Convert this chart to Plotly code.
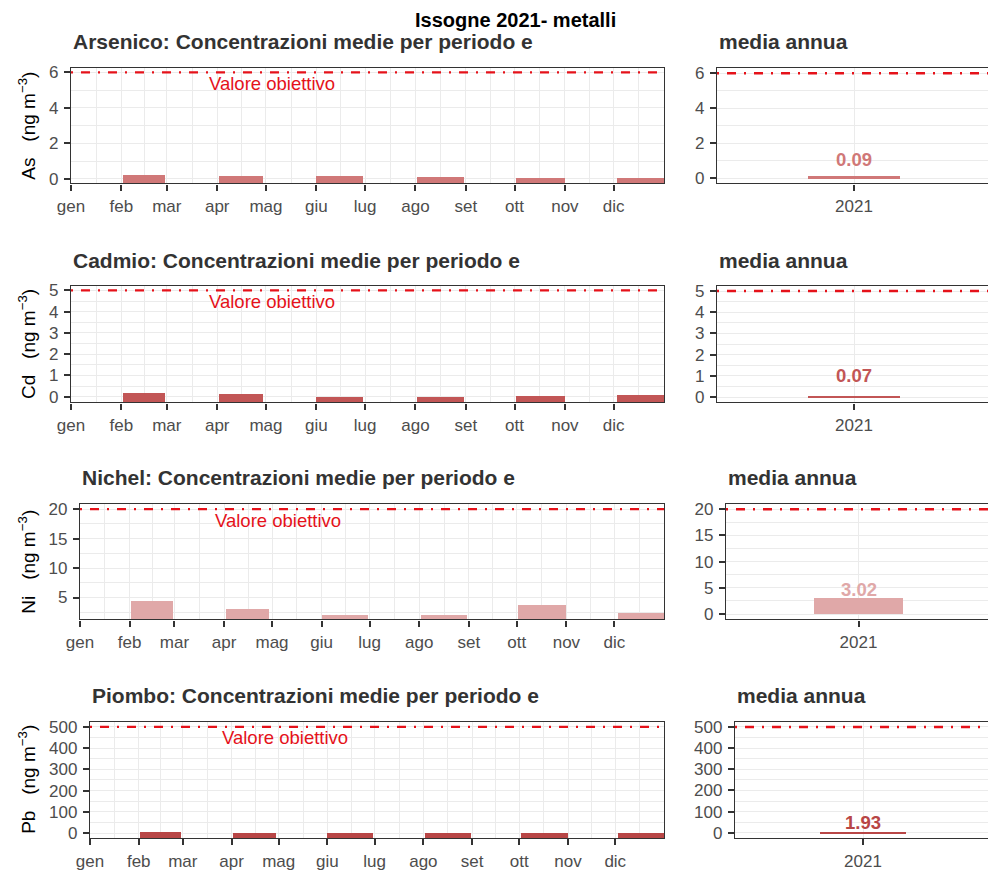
import plotly.graph_objects as go
import pandas as pd

# ---------------- data ----------------
month_labels = ["gen", "feb", "mar", "apr", "mag", "giu", "lug", "ago", "set", "ott", "nov", "dic"]
period_start = ["2021-02-02", "2021-04-02", "2021-06-01", "2021-08-02", "2021-10-02", "2021-12-03"]
period_end = ["2021-02-28", "2021-04-29", "2021-06-30", "2021-08-31", "2021-11-01", "2022-01-01"]

metal_codes = ["As", "Cd", "Ni", "Pb"]
metal_names = ["Arsenico", "Cadmio", "Nichel", "Piombo"]
as_values = [0.24, 0.17, 0.17, 0.11, 0.03, 0.07]
cd_values = [0.17, 0.13, 0.02, 0.02, 0.06, 0.09]
ni_values = [4.44, 2.97, 2.07, 2.07, 3.65, 2.30]
pb_values = [6.0, 1.6, 1.4, 1.2, 1.3, 1.5]
annual_year = ["2021"]
annual_means = [0.09, 0.07, 3.02, 1.93]
target_values = [6, 5, 20, 500]
target_label = "Valore obiettivo"

# ---------------- layout (page pixels) ----------------
OX, OY = 8, 8          # default page body margin
FW, FH = 988, 862      # figure size

panels = [
    dict(top=68, bottom=183.3, left=71, rleft=717, ylim=(-0.25, 6.25), rylim=(-0.3, 6.3),
         dtick=2, color="#D07878", lab_shift=17, title_y=42),
    dict(top=285.7, bottom=402.3, left=71, rleft=717, ylim=(-0.26, 5.22), rylim=(-0.25, 5.25),
         dtick=1, color="#C25656", lab_shift=20, title_y=260),
    dict(top=504, bottom=619.3, left=80, rleft=726, ylim=(1.3, 20.87), rylim=(-1, 21),
         dtick=5, color="#E0A8A8", lab_shift=9, title_y=477),
    dict(top=721.7, bottom=838, left=90, rleft=735, ylim=(-23, 524), rylim=(-25, 525),
         dtick=100, color="#B84646", lab_shift=10, title_y=695),
]
LEFT_RIGHT = 664
RIGHT_RIGHT = 991

FONT = "Liberation Sans, Arial, sans-serif"
TICK_FONT = dict(family=FONT, size=17, color="#4D4D4D")
GRID = "#EBEBEB"
FRAME = "#333333"
RED = "#E5121A"
DASH = "2px,8px,9px,8px"

series = [as_values, cd_values, ni_values, pb_values]

starts = pd.to_datetime(period_start)
ends = pd.to_datetime(period_end)
mids = starts + (ends - starts) / 2
widths = [(e - s).total_seconds() * 1000 for s, e in zip(starts, ends)]
month_starts = pd.date_range("2021-01-01", periods=12, freq="MS")
month_bounds = pd.date_range("2021-01-01", periods=13, freq="MS")
mid_months = [month_bounds[i] + (month_bounds[i + 1] - month_bounds[i]) / 2 for i in range(12)]

fig = go.Figure()
layout = dict(
    width=FW, height=FH, margin=dict(l=0, r=0, t=0, b=0, autoexpand=False),
    plot_bgcolor="white", paper_bgcolor="white", showlegend=False,
    bargap=0, font=dict(family=FONT),
)
annotations = []
shapes = []


def xd(px):
    return (px - OX) / FW


def yd(py):
    return 1 - (py - OY) / FH


for i, p in enumerate(panels):
    li = i + 1          # left axis index
    ri = i + 5          # right axis index
    lx = "x" if li == 1 else f"x{li}"
    ly = "y" if li == 1 else f"y{li}"
    rx = f"x{ri}"
    ry = f"y{ri}"
    ydom = [yd(p["bottom"]), yd(p["top"])]

    common_axis = dict(showline=True, mirror=True, linecolor=FRAME, linewidth=1.4,
                       ticks="outside", ticklen=6, tickwidth=1.8, tickcolor=FRAME,
                       tickfont=TICK_FONT, zeroline=False, showgrid=True,
                       gridcolor=GRID, gridwidth=1.4, automargin=False)
    xextra = dict(ticklabelstandoff=1)
    yextra = dict(ticklabelstandoff=2)

    # left panel: monthly campaign bars
    layout["xaxis" if li == 1 else f"xaxis{li}"] = dict(
        common_axis, **xextra, domain=[xd(p["left"]), xd(LEFT_RIGHT)], anchor=ly, type="date",
        range=[month_bounds[0], month_bounds[-1]], tickmode="array",
        tickvals=list(month_starts), ticktext=month_labels,
        minor=dict(tickvals=mid_months, showgrid=True, gridcolor=GRID, gridwidth=0.7, ticklen=0),
    )
    layout["yaxis" if li == 1 else f"yaxis{li}"] = dict(
        common_axis, **yextra, domain=ydom, anchor=lx, range=list(p["ylim"]), tick0=0, dtick=p["dtick"],
        minor=dict(tick0=0, dtick=p["dtick"] / 2, showgrid=True, gridcolor=GRID, gridwidth=0.7, ticklen=0),
    )
    base = p["ylim"][0]
    fig.add_trace(go.Bar(
        x=mids, y=[v - base for v in series[i]], base=base, width=widths,
        marker=dict(color=p["color"], line=dict(width=0)), xaxis=lx, yaxis=ly,
        hoverinfo="skip",
    ))

    # right panel: annual mean
    layout[f"xaxis{ri}"] = dict(
        common_axis, **xextra, domain=[xd(p["rleft"]), xd(RIGHT_RIGHT)], anchor=ry, type="category",
        range=[-0.6, 0.6],
    )
    layout[f"yaxis{ri}"] = dict(
        common_axis, **yextra, domain=ydom, anchor=rx, range=list(p["rylim"]), tick0=0, dtick=p["dtick"],
        minor=dict(tick0=0, dtick=p["dtick"] / 2, showgrid=True, gridcolor=GRID, gridwidth=0.7, ticklen=0),
    )
    fig.add_trace(go.Bar(
        x=annual_year, y=[annual_means[i]], width=0.4,
        marker=dict(color=p["color"], line=dict(width=0)), xaxis=rx, yaxis=ry,
        hoverinfo="skip",
    ))
    annotations.append(dict(
        x=0, y=annual_means[i], xref=rx, yref=ry, yshift=p["lab_shift"],
        text=f"<b>{annual_means[i]:.2f}</b>", showarrow=False, yanchor="middle",
        xanchor="center", font=dict(family=FONT, size=18.5, color=p["color"]),
    ))

    # target value lines
    for xr, yr in ((lx, ly), (rx, ry)):
        shapes.append(dict(
            type="line", xref=f"{xr} domain", yref=yr, x0=0, x1=1,
            y0=target_values[i], y1=target_values[i], layer="above",
            line=dict(color=RED, width=2.3, dash=DASH),
        ))
    annotations.append(dict(
        x="2021-05-05", y=target_values[i] * 0.9, xref=lx, yref=ly, showarrow=False,
        text=target_label, font=dict(family=FONT, size=18.5, color=RED),
    ))

    # titles
    annotations.append(dict(
        x=xd(p["left"]), y=yd(p["title_y"]), xref="paper", yref="paper", xanchor="left",
        yanchor="middle", showarrow=False,
        text=f"<b>{metal_names[i]}: Concentrazioni medie per periodo e</b>",
        font=dict(family=FONT, size=21, color="#333333"),
    ))
    annotations.append(dict(
        x=xd(p["rleft"]), y=yd(p["title_y"]), xref="paper", yref="paper", xanchor="left",
        yanchor="middle", showarrow=False, text="<b>media annua</b>",
        font=dict(family=FONT, size=21, color="#333333"),
    ))
    # y-axis title
    annotations.append(dict(
        x=xd(27), y=yd((p["top"] + p["bottom"]) / 2), xref="paper", yref="paper",
        xanchor="center", yanchor="middle", showarrow=False, textangle=-90,
        text=f"{metal_codes[i]}&nbsp;&nbsp;&nbsp;(ng m<sup>−3</sup>)",
        font=dict(family=FONT, size=19, color="black"),
    ))

annotations.append(dict(
    x=xd(516), y=1, xref="paper", yref="paper", xanchor="center", yanchor="top",
    showarrow=False, text="<b>Issogne 2021- metalli</b>", borderpad=0,
    font=dict(family=FONT, size=20, color="black"),
))

layout["annotations"] = annotations
layout["shapes"] = shapes
fig.update_layout(**layout)
fig.write_html("out.html")
